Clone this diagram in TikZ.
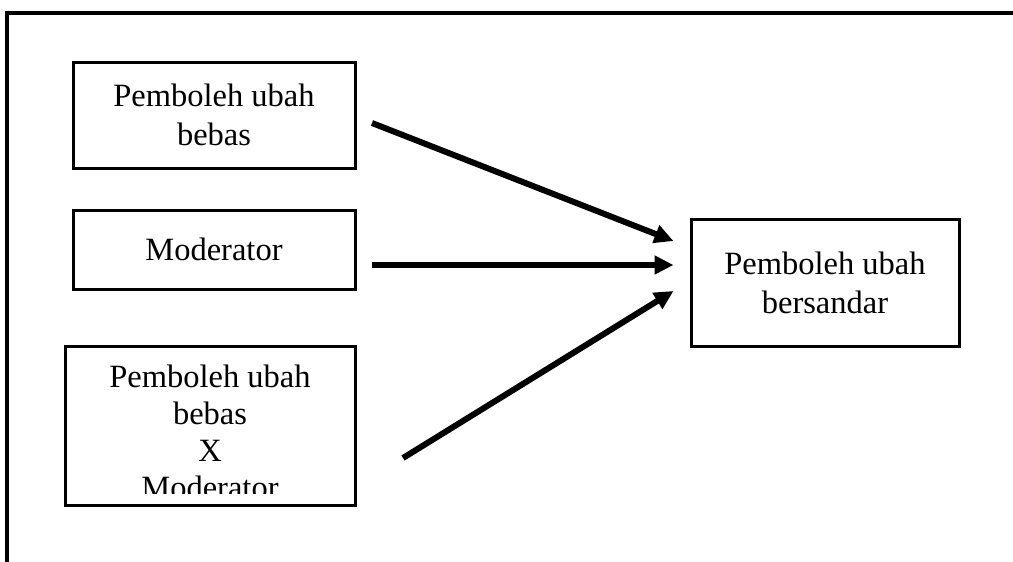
\documentclass[tikz,border=0pt]{standalone}
\usepackage{fontspec}
\setmainfont{Liberation Serif}
\usepackage{tikz}
\usetikzlibrary{arrows.meta, calc, positioning}
\tikzstyle{varbox} = [text centered, align=center, draw, line width=3pt, inner sep=0pt, font=\fontsize{32.5}{39}\selectfont]
\tikzstyle{vartext} = [text centered, align=center, inner sep=0pt, font=\fontsize{32.5}{37}\selectfont]
\tikzstyle{boxline} = [line width=3pt]
\tikzstyle{frameline} = [line width=3.2pt]
\tikzstyle{modelarrow} = [-{Triangle[length=19pt,width=18pt]}, line width=6pt]

\begin{document}
\begin{tikzpicture}[x=1pt, y=-1pt]
		\useasboundingbox (0,0) rectangle (1013,562);
		\draw [frameline] (1013,13) -- (7,13) -- (7,562);
		\node (iv) [varbox, minimum width=282pt, minimum height=106pt] at (214,115) {Pemboleh ubah\\bebas};
		\node (mod) [varbox, minimum width=282pt, minimum height=79pt] at (214,249.5) {Moderator};
		\begin{scope}
			\clip (65,346) rectangle (355,493);
			\node (inter) [vartext] at (210,432) {Pemboleh ubah\\bebas\\X\\Moderator};
		\end{scope}
		\draw [boxline] (65,346) rectangle (355,505);
		\node (dv) [varbox, minimum width=268pt, minimum height=127pt] at (825,282.5) {Pemboleh ubah\\bersandar};
		\coordinate (s1) at (372,123);
		\coordinate (s2) at (372,265);
		\coordinate (s3) at (403,458);
		\coordinate [left = 16pt of dv.west, yshift=17.5pt] (t2);
		\coordinate (t1) at ($(t2) + (0,-24)$);
		\coordinate (t3) at ($(t2) + (0,26)$);
		\draw [modelarrow] (s1) -- (t1);
		\draw [modelarrow] (s2) -- (t2);
		\draw [modelarrow] (s3) -- (t3);
	\end{tikzpicture}
\end{document}
